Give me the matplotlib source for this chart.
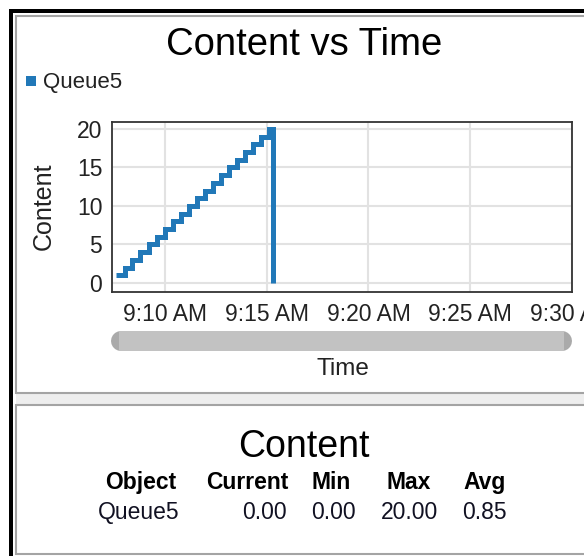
import datetime as dt
import matplotlib
matplotlib.use('Agg')
import matplotlib.pyplot as plt
import matplotlib.dates as mdates
from matplotlib.patches import Rectangle
from matplotlib.ticker import FuncFormatter

plt.rcParams['font.family'] = ['Liberation Sans', 'DejaVu Sans']

# queue content over time (each entry holds until the next timestamp)
times = ['09:07:37', '09:08:01', '09:08:24', '09:08:48', '09:09:12', '09:09:36',
         '09:09:59', '09:10:23', '09:10:47', '09:11:11', '09:11:34', '09:11:58',
         '09:12:22', '09:12:46', '09:13:09', '09:13:33', '09:13:57', '09:14:21',
         '09:14:44', '09:15:08', '09:15:18']
content = [1, 2, 3, 4, 5, 6, 7, 8, 9, 10, 11, 12, 13, 14, 15, 16, 17, 18, 19, 20, 0]
series_name = 'Queue5'

x_start, x_end = '09:07:24', '09:30:00'
x_ticks = ['09:10', '09:15', '09:20', '09:25', '09:30']
y_ticks = [0, 5, 10, 15, 20]

# summary table below the chart
table_cols = ['Object', 'Current', 'Min', 'Max', 'Avg']
table_row = ['Queue5', 0.00, 0.00, 20.00, 0.85]

BLUE = '#2178b8'
W, H = 584, 556


def to_time(s):
    fmt = '%H:%M:%S' if s.count(':') == 2 else '%H:%M'
    t = dt.datetime.strptime(s, fmt)
    return dt.datetime(2024, 1, 1, t.hour, t.minute, t.second)


def am_pm(x, pos):
    d = mdates.num2date(x)
    return f"{d.hour % 12 or 12}:{d.minute:02d} {'AM' if d.hour < 12 else 'PM'}"


fig = plt.figure(figsize=(W / 100, H / 100), dpi=100)

# pixel-space layer for the panels and free text
bg = fig.add_axes([0, 0, 1, 1], zorder=-1)
bg.set_xlim(0, W)
bg.set_ylim(H, 0)
bg.axis('off')

bg.add_patch(Rectangle((9, 9), 4, H, color='black', lw=0))
bg.add_patch(Rectangle((9, 9), W, 4, color='black', lw=0))
bg.add_patch(Rectangle((16, 393), W, 12, color='#eeeeee', lw=0))
bg.add_patch(Rectangle((16, 16), W + 10, 377, facecolor='white',
                       edgecolor='#a4a4a4', lw=1.5))
bg.add_patch(Rectangle((16, 405), W + 10, 149, facecolor='white',
                       edgecolor='#a4a4a4', lw=1.5))

bg.text(304, 55, 'Content vs Time', fontsize=27.5, ha='center', va='baseline')
bg.add_patch(Rectangle((26, 76), 10, 10, color=BLUE, lw=0))
bg.text(43, 88, series_name, fontsize=16, ha='left', va='baseline', color='#222222')
bg.text(44, 206, 'Content', fontsize=18, rotation=90, ha='center', va='center',
        color='#222222')
bg.text(343, 369, 'Time', fontsize=17.5, ha='center', va='center', color='#222222')

# scrollbar under the time axis
bg.plot([121, 562], [341, 341], color='#aaaaaa', lw=14.4, solid_capstyle='round')
bg.plot([119, 564], [341, 341], color='#c2c2c2', lw=14.4, solid_capstyle='butt')

# summary table
bg.text(303.5, 457, 'Content', fontsize=27, ha='center', va='baseline')
head_x = [141, 247, 331, 408.5, 485]
val_x = [139, 264, 333.5, 409.5, 484.5]
for col, hx in zip(table_cols, head_x):
    bg.text(hx, 489, col, fontsize=16.5, fontweight='bold', ha='center', va='baseline')
for i, (val, vx) in enumerate(zip(table_row, val_x)):
    label = val if i == 0 else f'{val:.2f}'
    bg.text(vx, 519, label, fontsize=16.5, ha='center', va='baseline', color='#111122')

# the chart itself
left, right, top, bottom = 112, 572, 122, 292
ax = fig.add_axes([left / W, (H - bottom) / H, (right - left) / W, (bottom - top) / H])
t = [to_time(s) for s in times]
ax.step(t, content, where='post', color=BLUE, lw=3.6,
        solid_capstyle='butt', solid_joinstyle='miter')
ax.set_xlim(to_time(x_start), to_time(x_end))
ax.set_ylim(-1.17, 20.9)
ax.set_xticks([to_time(s) for s in x_ticks])
ax.xaxis.set_major_formatter(FuncFormatter(am_pm))
ax.set_yticks(y_ticks)
ax.grid(True, color='#e2e2e2', lw=1.5)
ax.set_axisbelow(True)
ax.tick_params(axis='x', length=0, pad=8, labelsize=16.5, labelcolor='#222222')
ax.tick_params(axis='y', length=0, pad=7, labelsize=16.5, labelcolor='#222222')
for sp in ax.spines.values():
    sp.set_color('#333333')
    sp.set_linewidth(1.3)

fig.savefig('out.png', dpi=100)
